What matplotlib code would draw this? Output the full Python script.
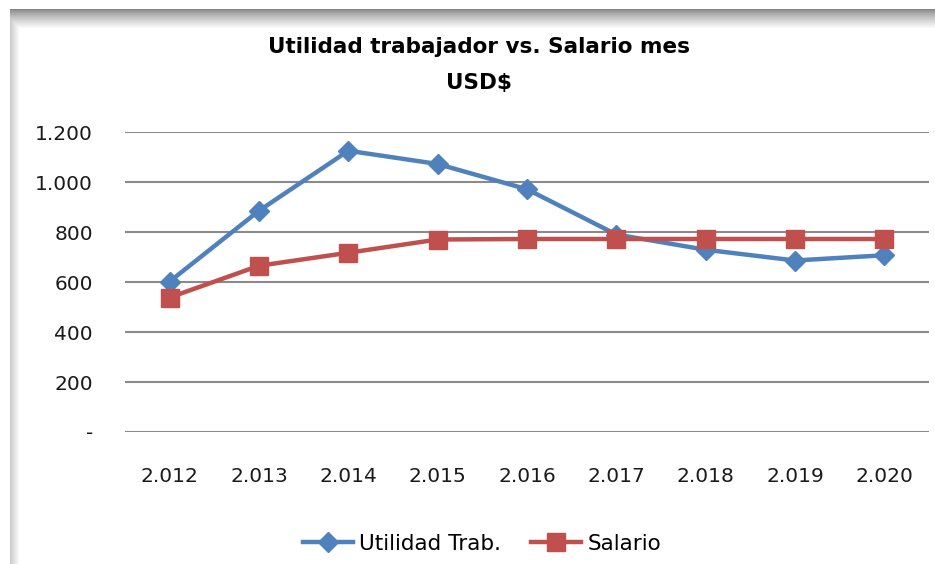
import numpy as np
import matplotlib.pyplot as plt
from matplotlib.lines import Line2D

years = ['2.012', '2.013', '2.014', '2.015', '2.016', '2.017', '2.018', '2.019', '2.020']
utilidad = [602, 885, 1125, 1072, 971, 790, 729, 686, 707]
salario = [538, 665, 717, 770, 772, 772, 772, 772, 772]
yticks = [0, 200, 400, 600, 800, 1000, 1200]
ytick_labels = ['-', '200', '400', '600', '800', '1.000', '1.200']

blue = '#4F81BD'
red = '#C0504D'

W, H = 935, 564
fig = plt.figure(figsize=(W / 100, H / 100), dpi=100)

# background with the soft shadow along top and left edge
bg = np.ones((H, W, 3))
for i in range(20):
    v = 0.53 + 0.47 * (i / 19) ** 0.8
    bg[9 + i, 10:, :] = np.minimum(bg[9 + i, 10:, :], v)
for j in range(10):
    v = 0.80 + 0.20 * (j / 9)
    bg[9:, 10 + j, :] = np.minimum(bg[9:, 10 + j, :], v)
fig.figimage(bg, xo=0, yo=0, origin='upper', zorder=-5)

ax = fig.add_axes([125 / W, 1 - 432 / H, (929 - 125) / W, 300 / H])
ax.patch.set_alpha(0)
x = np.arange(len(years))

ax.plot(x, utilidad, color=blue, lw=3.2, marker='D', ms=10, zorder=3,
        label='Utilidad Trab.')
ax.plot(x, salario, color=red, lw=3.2, marker='s', ms=13.5, zorder=4,
        label='Salario')

ax.set_xlim(-0.5, len(years) - 0.5)
ax.set_ylim(0, 1200)
ax.set_yticks(yticks)
ax.set_yticklabels(ytick_labels)
ax.set_xticks(x)
ax.set_xticklabels(years)
ax.grid(axis='y', color='#8a8a8a', lw=1.5, zorder=1)
for s in ax.spines.values():
    s.set_visible(False)
ax.tick_params(axis='y', length=0, pad=23, labelsize=14.5, labelcolor='#1a1a1a')
ax.tick_params(axis='x', length=0, pad=25, labelsize=14.5, labelcolor='#1a1a1a')

fig.text(479 / W, 1 - 47 / H, 'Utilidad trabajador vs. Salario mes',
         ha='center', va='center', fontsize=15.5, fontweight='bold')
fig.text(479 / W, 1 - 83 / H, 'USD$',
         ha='center', va='center', fontsize=15.5, fontweight='bold')

handles = [Line2D([], [], color=blue, lw=3.2, marker='D', ms=10),
           Line2D([], [], color=red, lw=3.2, marker='s', ms=13.5)]
fig.legend(handles, ['Utilidad Trab.', 'Salario'], loc='center',
           bbox_to_anchor=(482 / W, 1 - 544 / H), ncol=2, frameon=False,
           fontsize=15.5, handlelength=2.3, handletextpad=0.3, columnspacing=1.4)

fig.savefig('out.png', dpi=100)
